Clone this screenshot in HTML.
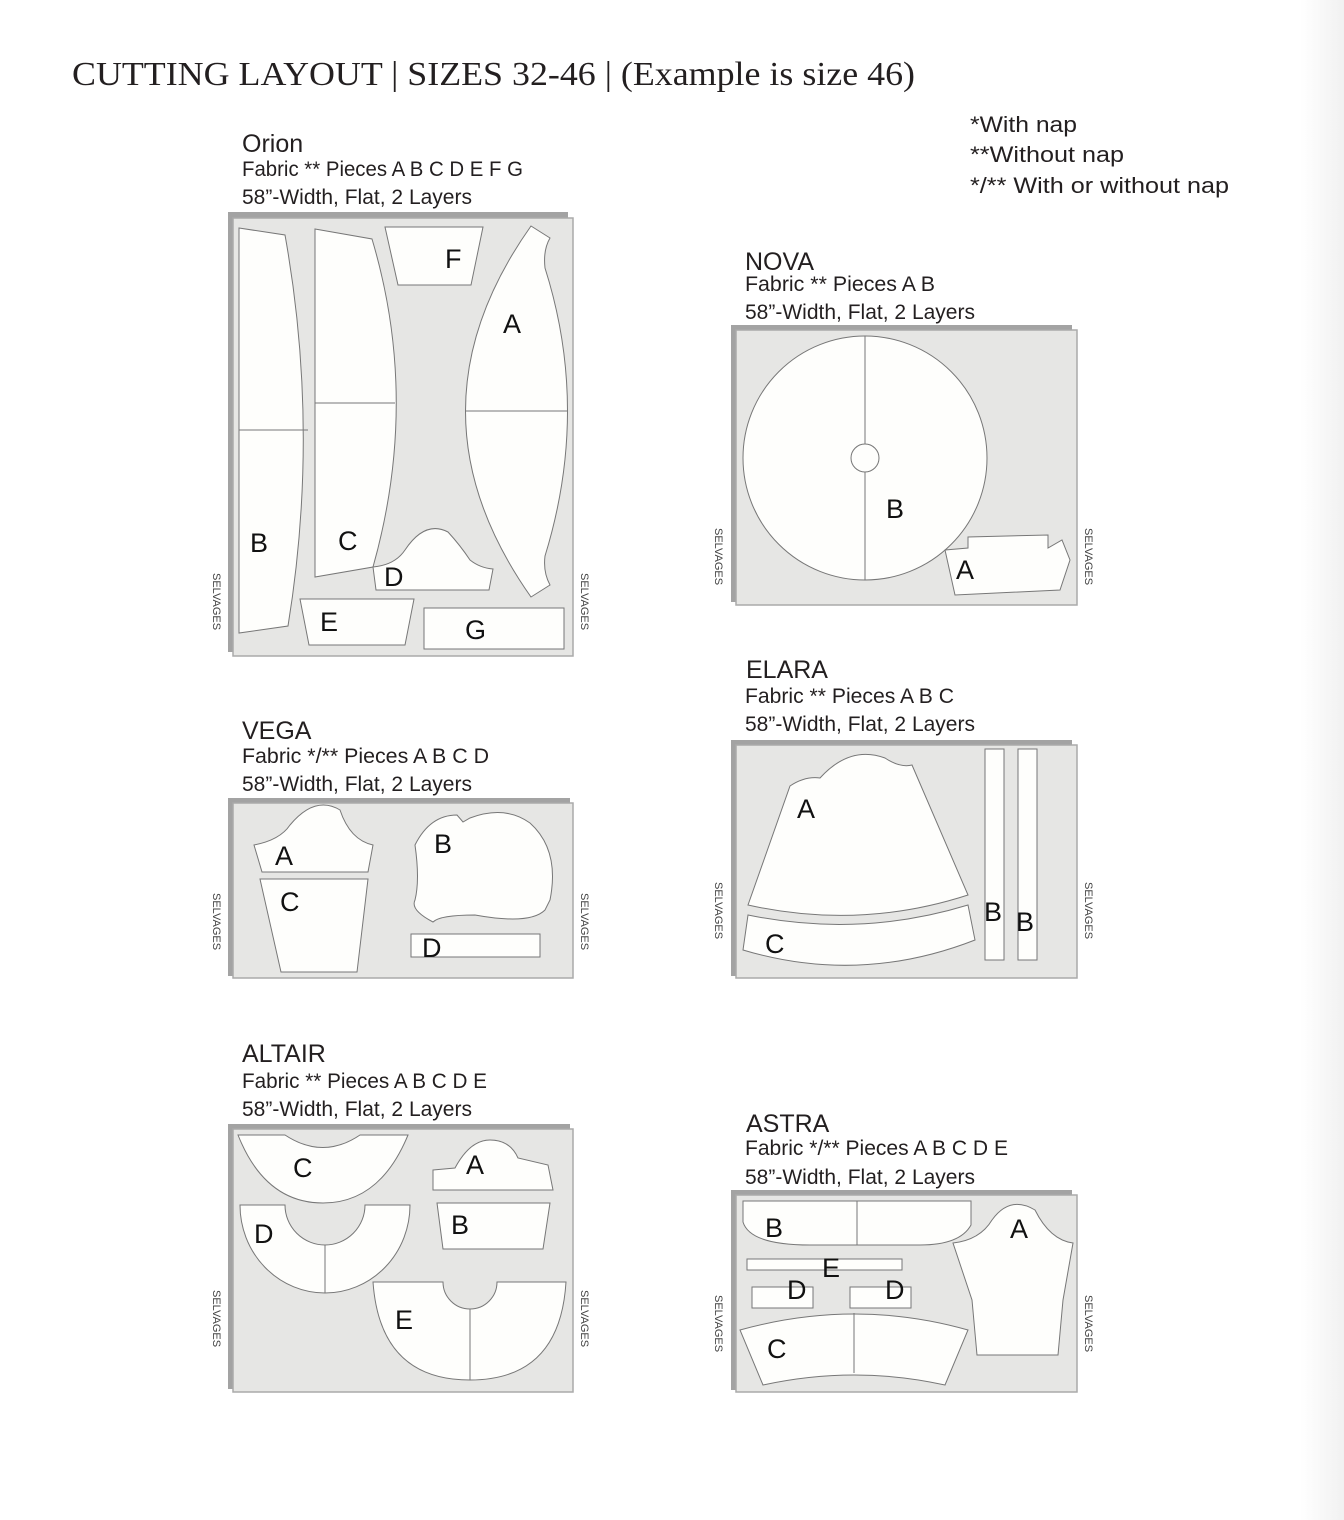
<!DOCTYPE html>
<html><head><meta charset="utf-8"><style>
html,body{margin:0;padding:0;background:#fff}
svg{display:block}
.t{font-family:"Liberation Sans",sans-serif;fill:#231f20}
.p{fill:#fefefc;stroke:#777;stroke-width:1}
.b{fill:#a3a3a3}
.f{fill:#e6e6e4;stroke:#aaa;stroke-width:1.5}
.l{font-family:"Liberation Sans",sans-serif;fill:#111;font-size:27px}
.s{font-family:"Liberation Sans",sans-serif;fill:#444;font-size:11px}
.m{stroke:#777;stroke-width:1;fill:none}
</style></head><body>
<svg width="1344" height="1520" viewBox="0 0 1344 1520" xmlns="http://www.w3.org/2000/svg">
<defs><linearGradient id="g" x1="0" x2="1"><stop offset="0" stop-color="#fff"/><stop offset="1" stop-color="#f1f1f1"/></linearGradient></defs>
<rect x="1300" y="0" width="44" height="1520" fill="url(#g)"/>
<text x="72" y="85" font-family="Liberation Serif,serif" font-size="34" fill="#231f20" textLength="843" lengthAdjust="spacingAndGlyphs">CUTTING LAYOUT | SIZES 32-46 | (Example is size 46)</text>
<g class="t" font-size="22" lengthAdjust="spacingAndGlyphs">
<text x="970" y="132" textLength="107" lengthAdjust="spacingAndGlyphs">*With nap</text>
<text x="970" y="162" textLength="154" lengthAdjust="spacingAndGlyphs">**Without nap</text>
<text x="970" y="193" textLength="259" lengthAdjust="spacingAndGlyphs">*/** With or without nap</text>
</g>

<!-- ORION -->
<g class="t"><text x="242" y="152" font-size="25">Orion</text>
<text x="242" y="176" font-size="21" textLength="281" lengthAdjust="spacingAndGlyphs">Fabric **  Pieces A B C D E F G</text>
<text x="242" y="204" font-size="21" textLength="230" lengthAdjust="spacingAndGlyphs">58”-Width, Flat, 2 Layers</text></g>
<rect class="b" x="228" y="212" width="340" height="440"/>
<rect class="f" x="233" y="218" width="340" height="438"/>
<path class="p" d="M239,228 L285,235 Q320,430 288,626 L239,633 Z"/><line class="m" x1="239" y1="430" x2="308" y2="430"/>
<path class="p" d="M315,229 L372,239 Q420,400 373,567 L315,577 Z"/><line class="m" x1="315" y1="403" x2="395" y2="403"/>
<path class="p" d="M385,227 L483,227 L471,285 L398,285 Z"/>
<path class="p" d="M531,226 L550,238 Q543,250 545,268 Q590,410 545,556 Q543,572 550,585 L531,597 Q400,411 531,226 Z"/><line class="m" x1="465" y1="411" x2="568" y2="411"/>
<path class="p" d="M373,567 Q395,565 405,550 Q425,520 448,532 Q460,545 470,560 Q480,568 493,569 L489,590 L376,590 Z"/>
<path class="p" d="M300,599 L414,599 L405,645 L309,645 Z"/>
<rect class="p" x="424" y="608" width="140" height="41"/>
<text class="l" x="250" y="552">B</text><text class="l" x="338" y="550">C</text><text class="l" x="445" y="268">F</text><text class="l" x="503" y="333">A</text><text class="l" x="384" y="586">D</text><text class="l" x="320" y="631">E</text><text class="l" x="465" y="639">G</text>
<text class="s" transform="translate(213,573) rotate(90)">SELVAGES</text>
<text class="s" transform="translate(581,573) rotate(90)">SELVAGES</text>

<!-- NOVA -->
<g class="t"><text x="745" y="270" font-size="25">NOVA</text>
<text x="745" y="291" font-size="21" textLength="190" lengthAdjust="spacingAndGlyphs">Fabric **  Pieces A B</text>
<text x="745" y="319" font-size="21" textLength="230" lengthAdjust="spacingAndGlyphs">58”-Width, Flat, 2 Layers</text></g>
<rect class="b" x="731" y="325" width="341" height="277"/>
<rect class="f" x="736" y="330" width="341" height="275"/>
<circle class="p" cx="865" cy="458" r="122"/>
<line class="m" x1="865" y1="336" x2="865" y2="580"/>
<circle class="p" cx="865" cy="458" r="14"/>
<path class="p" d="M945,550 L968,548 L968,537 L1048,535 L1048,548 L1062,540 L1070,560 L1060,590 L955,595 Z"/>
<text class="l" x="886" y="518">B</text><text class="l" x="956" y="579">A</text>
<text class="s" transform="translate(715,528) rotate(90)">SELVAGES</text>
<text class="s" transform="translate(1085,528) rotate(90)">SELVAGES</text>

<!-- ELARA -->
<g class="t"><text x="746" y="678" font-size="25">ELARA</text>
<text x="745" y="703" font-size="21" textLength="209" lengthAdjust="spacingAndGlyphs">Fabric **  Pieces A B C</text>
<text x="745" y="731" font-size="21" textLength="230" lengthAdjust="spacingAndGlyphs">58”-Width, Flat, 2 Layers</text></g>
<rect class="b" x="731" y="740" width="341" height="236"/>
<rect class="f" x="736" y="745" width="341" height="233"/>
<path class="p" d="M790,786 Q805,776 820,778 Q850,745 885,758 Q900,768 912,765 L968,895 Q860,930 748,905 Z"/>
<path class="p" d="M748,915 Q860,938 968,905 L975,940 Q860,985 743,950 Z"/>
<rect class="p" x="985" y="749" width="19" height="211"/>
<rect class="p" x="1018" y="749" width="19" height="211"/>
<text class="l" x="797" y="818">A</text><text class="l" x="765" y="953">C</text><text class="l" x="984" y="921">B</text><text class="l" x="1016" y="931">B</text>
<text class="s" transform="translate(715,882) rotate(90)">SELVAGES</text>
<text class="s" transform="translate(1085,882) rotate(90)">SELVAGES</text>

<!-- VEGA -->
<g class="t"><text x="242" y="739" font-size="25">VEGA</text>
<text x="242" y="763" font-size="21" textLength="247" lengthAdjust="spacingAndGlyphs">Fabric */**  Pieces A B C D</text>
<text x="242" y="791" font-size="21" textLength="230" lengthAdjust="spacingAndGlyphs">58”-Width, Flat, 2 Layers</text></g>
<rect class="b" x="228" y="798" width="342" height="178"/>
<rect class="f" x="233" y="803" width="340" height="175"/>
<path class="p" d="M254,845 Q280,840 290,825 Q315,795 340,810 Q350,840 373,845 L368,872 L262,872 Z"/>
<path class="p" d="M260,879 L368,879 L357,972 L281,972 Z"/>
<path class="p" d="M415,845 Q430,815 457,815 L463,822 L470,818 Q505,805 530,823 Q560,850 550,900 L545,910 Q530,925 475,915 Q440,915 433,922 Q410,910 415,900 Q420,880 415,845 Z"/>
<rect class="p" x="411" y="934" width="129" height="23"/>
<text class="l" x="275" y="865">A</text><text class="l" x="280" y="911">C</text><text class="l" x="434" y="853">B</text><text class="l" x="422" y="957">D</text>
<text class="s" transform="translate(213,893) rotate(90)">SELVAGES</text>
<text class="s" transform="translate(581,893) rotate(90)">SELVAGES</text>

<!-- ALTAIR -->
<g class="t"><text x="242" y="1062" font-size="25">ALTAIR</text>
<text x="242" y="1088" font-size="21" textLength="245" lengthAdjust="spacingAndGlyphs">Fabric **  Pieces A B C D E</text>
<text x="242" y="1116" font-size="21" textLength="230" lengthAdjust="spacingAndGlyphs">58”-Width, Flat, 2 Layers</text></g>
<rect class="b" x="228" y="1124" width="342" height="265"/>
<rect class="f" x="233" y="1129" width="340" height="263"/>
<path class="p" d="M238,1135 L285,1135 Q323,1160 360,1135 L408,1135 Q380,1203 323,1203 Q265,1203 238,1135 Z"/>
<path class="p" d="M433,1170 L455,1168 Q470,1140 490,1140 Q510,1140 518,1158 L548,1165 L553,1190 L433,1190 Z"/>
<path class="p" d="M437,1203 L550,1203 L543,1249 L443,1249 Z"/>
<path class="p" d="M240,1205 L285,1205 A40,40 0 0 0 365,1205 L410,1205 A85,88 0 0 1 240,1205 Z"/><line class="m" x1="325" y1="1245" x2="325" y2="1293"/>
<path class="p" d="M373,1282 L443,1282 A27,27 0 0 0 497,1282 L566,1282 Q560,1380 470,1380 Q380,1380 373,1282 Z"/><line class="m" x1="470" y1="1309" x2="470" y2="1380"/>
<text class="l" x="293" y="1177">C</text><text class="l" x="466" y="1174">A</text><text class="l" x="451" y="1234">B</text><text class="l" x="254" y="1243">D</text><text class="l" x="395" y="1329">E</text>
<text class="s" transform="translate(213,1290) rotate(90)">SELVAGES</text>
<text class="s" transform="translate(581,1290) rotate(90)">SELVAGES</text>

<!-- ASTRA -->
<g class="t"><text x="746" y="1132" font-size="25">ASTRA</text>
<text x="745" y="1155" font-size="21" textLength="263" lengthAdjust="spacingAndGlyphs">Fabric */**  Pieces A B C D E</text>
<text x="745" y="1184" font-size="21" textLength="230" lengthAdjust="spacingAndGlyphs">58”-Width, Flat, 2 Layers</text></g>
<rect class="b" x="731" y="1190" width="341" height="200"/>
<rect class="f" x="736" y="1195" width="341" height="197"/>
<path class="p" d="M743,1201 L971,1201 L971,1225 Q960,1245 920,1245 L810,1245 Q750,1245 743,1222 Z"/><line class="m" x1="857" y1="1201" x2="857" y2="1245"/>
<path class="p" d="M953,1243 Q980,1240 992,1220 Q1010,1195 1035,1210 Q1050,1240 1073,1243 L1063,1300 L1058,1355 L977,1355 L972,1300 Z"/>
<rect class="p" x="747" y="1259" width="155" height="11"/>
<rect class="p" x="752" y="1287" width="61" height="21"/>
<rect class="p" x="850" y="1287" width="61" height="21"/>
<path class="p" d="M740,1330 Q855,1298 968,1330 L945,1385 Q855,1365 763,1385 Z"/><line class="m" x1="854" y1="1313" x2="854" y2="1373"/>
<text class="l" x="765" y="1237">B</text><text class="l" x="1010" y="1238">A</text><text class="l" x="822" y="1277">E</text><text class="l" x="787" y="1299">D</text><text class="l" x="885" y="1299">D</text><text class="l" x="767" y="1358">C</text>
<text class="s" transform="translate(715,1295) rotate(90)">SELVAGES</text>
<text class="s" transform="translate(1085,1295) rotate(90)">SELVAGES</text>
</svg>
</body></html>
